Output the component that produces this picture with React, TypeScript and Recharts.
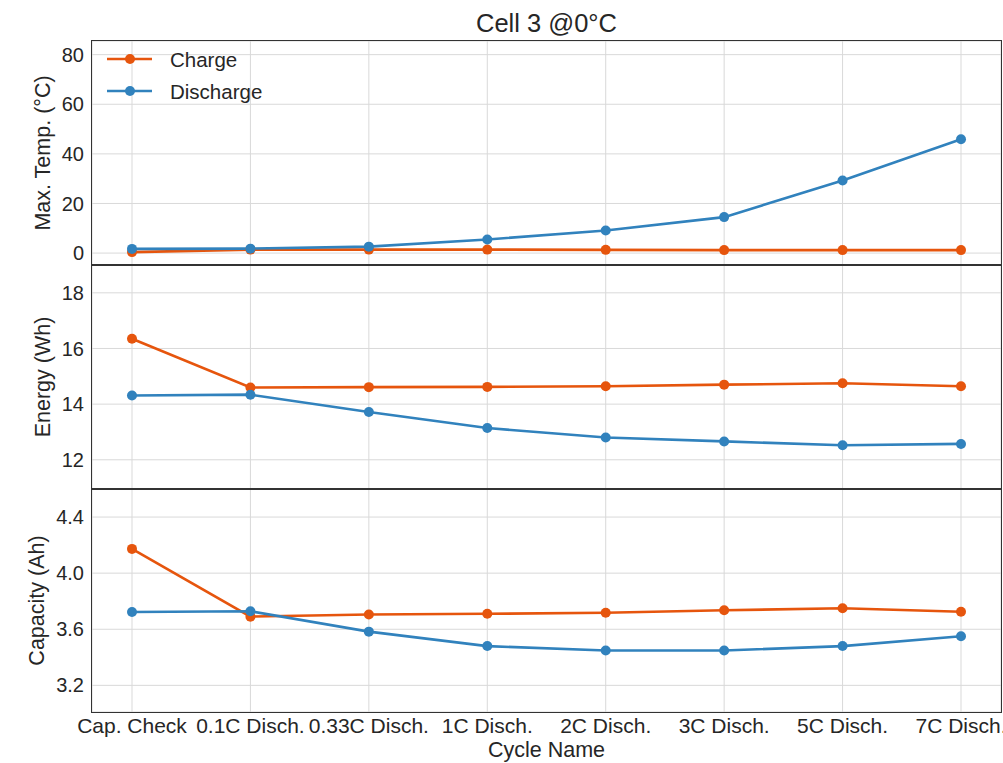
import React from 'react';
import { LineChart, Line, XAxis, YAxis, CartesianGrid, Legend } from 'recharts';

const categories = ['Cap. Check', '0.1C Disch.', '0.33C Disch.', '1C Disch.', '2C Disch.', '3C Disch.', '5C Disch.', '7C Disch.'];

const tempCharge = [0.4, 1.4, 1.4, 1.4, 1.3, 1.2, 1.2, 1.2];
const tempDischarge = [1.7, 1.8, 2.6, 5.5, 9.1, 14.5, 29.3, 45.9];

const energyCharge = [16.35, 14.6, 14.61, 14.62, 14.64, 14.7, 14.75, 14.64];
const energyDischarge = [14.31, 14.34, 13.72, 13.14, 12.8, 12.66, 12.52, 12.57];

const capacityCharge = [4.173, 3.69, 3.705, 3.71, 3.718, 3.735, 3.75, 3.725];
const capacityDischarge = [3.723, 3.728, 3.583, 3.48, 3.448, 3.448, 3.48, 3.55];

const tempTicks = [0, 20, 40, 60, 80];
const energyTicks = [12, 14, 16, 18];
const capacityTicks = [3.2, 3.6, 4.0, 4.4];

const tempDomain = [-4.8, 85.5];
const energyDomain = [10.95, 19.0];
const capacityDomain = [3.01, 4.6];

const FONT = '"Liberation Sans", Arial, Helvetica, sans-serif';
const ORANGE = '#e6550d';
const BLUE = '#3182bd';
const TEXT = '#262626';
const W = 1003;

const build = (a: number[], b: number[]) =>
  categories.map((c, i) => ({ name: c, charge: a[i], discharge: b[i] }));

function YTitle(props: any) {
  const vb = props.viewBox || { y: 0, height: 0 };
  const cy = vb.y + vb.height / 2;
  const cx = props.cx;
  return (
    <text
      x={cx}
      y={cy}
      transform={`rotate(-90 ${cx} ${cy})`}
      textAnchor="middle"
      dominantBaseline="central"
      fontSize={21.5}
      fill={TEXT}
      fontFamily={FONT}
    >
      {props.text}
    </text>
  );
}

function XTitle(props: any) {
  const vb = props.viewBox || { x: 0, y: 0, width: 0 };
  return (
    <text
      x={vb.x + vb.width / 2}
      y={vb.y + 45}
      textAnchor="middle"
      fontSize={21.5}
      fill={TEXT}
      fontFamily={FONT}
    >
      {props.text}
    </text>
  );
}

function LegendBox(props: any) {
  const payload = props.payload || [];
  return (
    <svg width={200} height={70} style={{ display: 'block' }}>
      {payload.map((p: any, i: number) => {
        const y = 18 + i * 32;
        return (
          <g key={i}>
            <line x1={7} x2={52} y1={y} y2={y} stroke={p.color} strokeWidth={2.5} />
            <circle cx={30} cy={y} r={5} fill={p.color} />
            <text x={70} y={y} dominantBaseline="central" fontSize={20.5} fill={TEXT} fontFamily={FONT}>
              {p.value}
            </text>
          </g>
        );
      })}
    </svg>
  );
}

function Panel(props: any) {
  const { top, height, data, domain, ticks, label, labelX, showX, legend, fmt } = props;
  const xh = showX ? 50 : 0;
  return (
    <div style={{ position: 'absolute', left: 0, top }}>
      <LineChart width={W} height={height + xh} data={data} margin={{ top: 0, right: 2, bottom: 0, left: 0 }}>
        <CartesianGrid stroke="#d9d9d9" strokeWidth={1} />
        <XAxis
          dataKey="name"
          hide={!showX}
          height={xh}
          interval={0}
          padding={{ left: 40, right: 40 }}
          axisLine={false}
          tickLine={false}
          tickSize={4}
          tickMargin={2}
          tick={{ fontSize: 21, fill: TEXT, fontFamily: FONT }}
          label={showX ? <XTitle text="Cycle Name" /> : undefined}
        />
        <YAxis
          width={92}
          type="number"
          domain={domain}
          ticks={ticks}
          allowDataOverflow
          axisLine={false}
          tickLine={false}
          tickSize={6}
          tickMargin={2}
          tickFormatter={fmt}
          tick={{ fontSize: 20, fill: TEXT, fontFamily: FONT }}
          label={<YTitle text={label} cx={labelX} />}
        />
        {legend ? (
          <Legend
            layout="vertical"
            align="center"
            verticalAlign="middle"
            wrapperStyle={{ left: 100, top: 0, width: 200, height: 70 }}
            content={<LegendBox />}
          />
        ) : null}
        <Line
          type="linear"
          dataKey="charge"
          name="Charge"
          stroke={ORANGE}
          strokeWidth={2.6}
          dot={{ r: 5, fill: ORANGE, stroke: ORANGE, strokeWidth: 0 }}
          activeDot={false}
          isAnimationActive={false}
        />
        <Line
          type="linear"
          dataKey="discharge"
          name="Discharge"
          stroke={BLUE}
          strokeWidth={2.6}
          dot={{ r: 5, fill: BLUE, stroke: BLUE, strokeWidth: 0 }}
          activeDot={false}
          isAnimationActive={false}
        />
      </LineChart>
    </div>
  );
}

export default function App() {
  return (
    <div
      style={{
        position: 'absolute',
        left: 0,
        top: 0,
        width: W,
        height: 763,
        background: '#fff',
        fontFamily: FONT,
        overflow: 'hidden',
      }}
    >
      <div
        style={{
          position: 'absolute',
          left: 92,
          top: 6,
          width: 909,
          textAlign: 'center',
          fontSize: 25.5,
          lineHeight: '34px',
          color: TEXT,
        }}
      >
        Cell 3 @0°C
      </div>
      <Panel
        top={41}
        height={224}
        data={build(tempCharge, tempDischarge)}
        domain={tempDomain}
        ticks={tempTicks}
        label="Max. Temp. (°C)"
        labelX={43}
        legend
        fmt={(v: number) => String(v)}
      />
      <Panel
        top={265}
        height={224}
        data={build(energyCharge, energyDischarge)}
        domain={energyDomain}
        ticks={energyTicks}
        label="Energy (Wh)"
        labelX={43}
        fmt={(v: number) => String(v)}
      />
      <Panel
        top={489}
        height={223}
        data={build(capacityCharge, capacityDischarge)}
        domain={capacityDomain}
        ticks={capacityTicks}
        label="Capacity (Ah)"
        labelX={37}
        showX
        fmt={(v: number) => v.toFixed(1)}
      />
      <div
        style={{
          position: 'absolute',
          left: 91,
          top: 40,
          width: 911,
          height: 673,
          border: '1.3px solid #333',
          boxSizing: 'border-box',
          pointerEvents: 'none',
        }}
      />
      <div style={{ position: 'absolute', left: 91, top: 264.4, width: 911, height: 1.4, background: '#333', pointerEvents: 'none' }} />
      <div style={{ position: 'absolute', left: 91, top: 488.4, width: 911, height: 1.4, background: '#333', pointerEvents: 'none' }} />
    </div>
  );
}
